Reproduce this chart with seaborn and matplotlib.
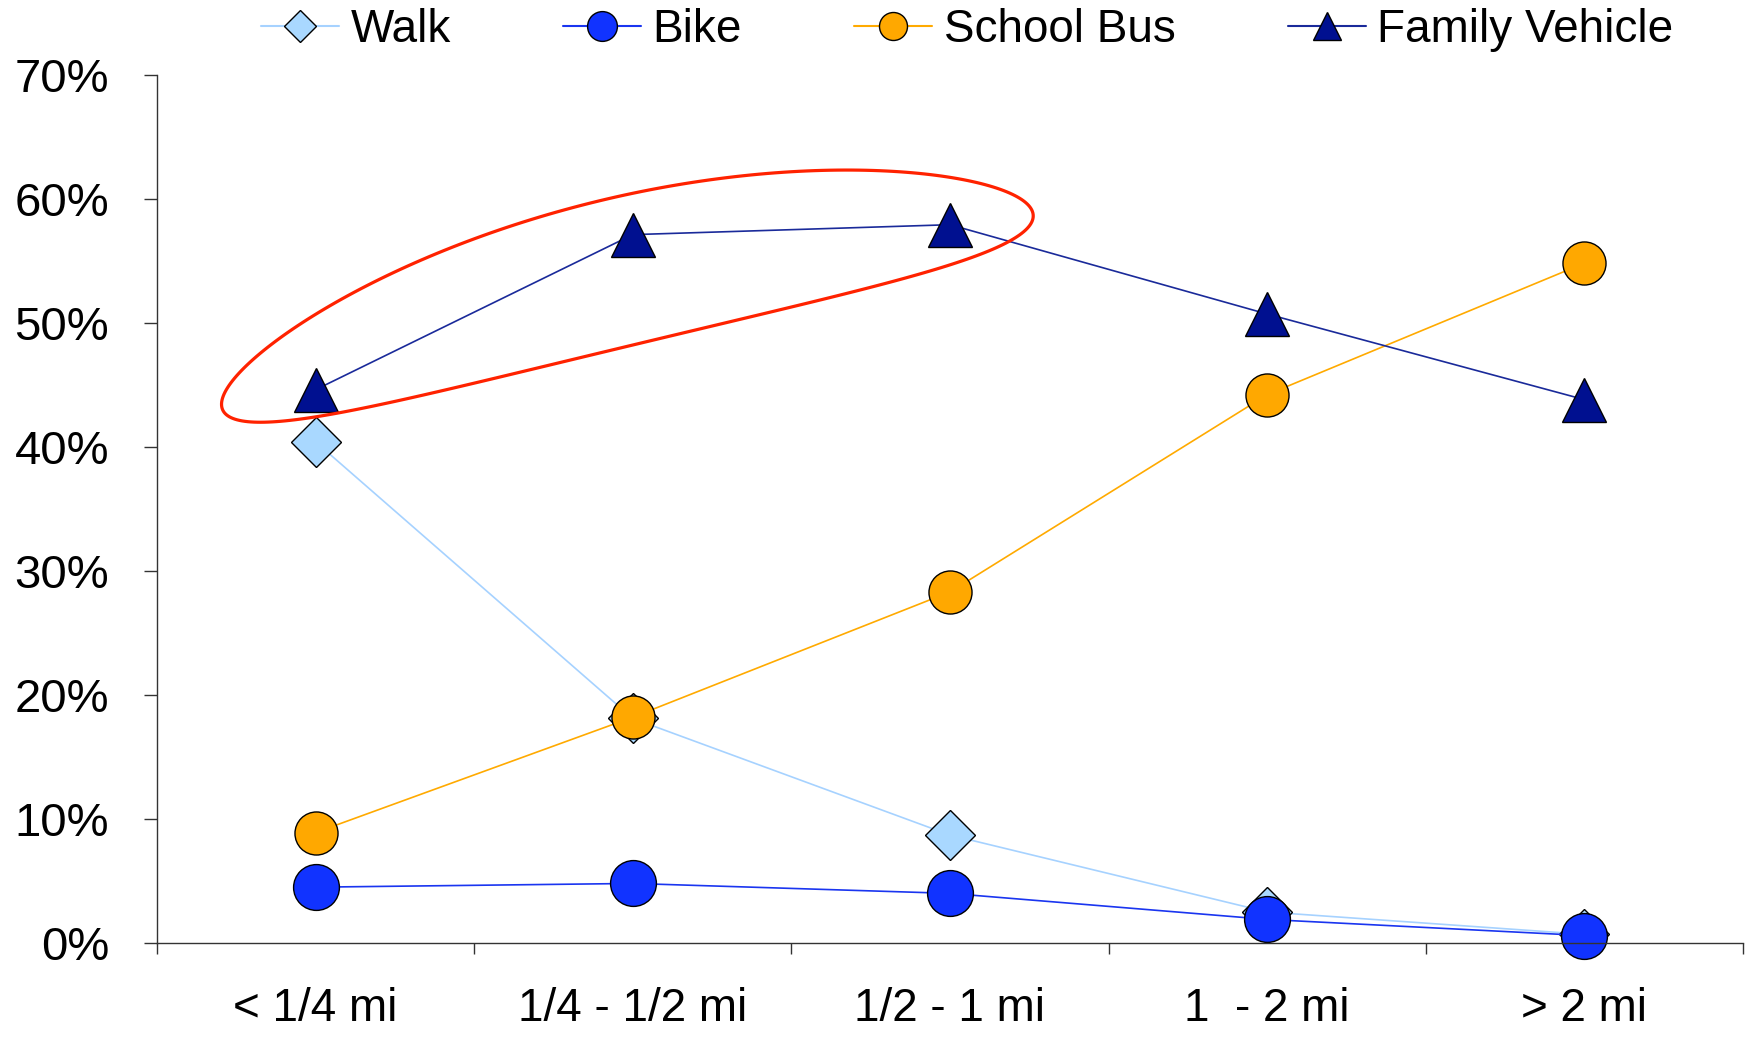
#!/usr/bin/env python

import numpy as np
import pandas as pd
import seaborn as sb
import matplotlib.pyplot as plt
from matplotlib.lines import Line2D
from matplotlib.patches import Polygon
from matplotlib.transforms import IdentityTransform
from matplotlib.ticker import FuncFormatter


distances = ["< 1/4 mi", "1/4 - 1/2 mi", "1/2 - 1 mi", "1  - 2 mi", "> 2 mi"]
walk = [40.4, 18.1, 8.7, 2.5, 0.7]
bike = [4.5, 4.8, 4.0, 1.9, 0.6]
school_bus = [8.9, 18.2, 28.3, 44.2, 54.8]
family_vehicle = [44.6, 57.1, 57.9, 50.7, 43.8]

modes = ["Walk", "Bike", "School Bus", "Family Vehicle"]
styles = {
    "Walk": dict(marker="D", ms=25, line="#a6d2ff", face="#a9d8ff"),
    "Bike": dict(marker="o", ms=33, line="#1a35f0", face="#1133ff"),
    "School Bus": dict(marker="o", ms=31, line="#ffaa00", face="#ffa800"),
    "Family Vehicle": dict(marker="^", ms=32, line="#1a2a9a", face="#001090"),
}

sb.set_style("white")
plt.rcParams["font.family"] = ["Liberation Sans", "DejaVu Sans"]
plt.rcParams["text.color"] = "black"

df = pd.DataFrame({
    "pos": np.tile(np.arange(len(distances)), len(modes)),
    "mode": np.repeat(modes, len(distances)),
    "share": walk + bike + school_bus + family_vehicle,
})


def draw_series(ax, mode):
    st = styles[mode]
    sub = df[df["mode"] == mode]
    sb.lineplot(data=sub, x="pos", y="share", ax=ax, color=st["line"], linewidth=1.2,
                marker=st["marker"], markersize=st["ms"], markerfacecolor=st["face"],
                markeredgecolor="black", markeredgewidth=1.0, clip_on=False, legend=False)


def draw_highlight(ax):
    # red loop around the first three family-vehicle points
    cx, cy = ax.transData.transform((0.983, 51.0))
    a, b, bend, ang = 417, 74, 39, np.radians(13.5)
    t = np.linspace(0, 2 * np.pi, 300)
    u = a * np.cos(t)
    v = b * np.sin(t) + bend * np.sin(t) ** 2
    xs = cx + u * np.cos(ang) - v * np.sin(ang)
    ys = cy + u * np.sin(ang) + v * np.cos(ang)
    loop = Polygon(np.column_stack([xs, ys]), closed=True, fill=False, edgecolor="#ff2200",
                   linewidth=2.3, transform=IdentityTransform(), clip_on=False, zorder=5)
    ax.add_artist(loop)


def main():
    fig = plt.figure(figsize=(17.46, 10.39), dpi=100)
    ax = fig.add_axes([0.0899, 0.0924, 0.9084, 0.8358])

    for mode in modes:
        draw_series(ax, mode)

    ax.set_xlim(-0.5, len(distances) - 0.5)
    ax.set_ylim(0, 70)
    ax.set_yticks(range(0, 71, 10))
    ax.yaxis.set_major_formatter(FuncFormatter(lambda v, _: f"{v:.0f}%"))
    ax.set_xticks(range(len(distances)))
    ax.set_xticklabels(distances)
    ax.set_xticks(np.arange(-0.5, len(distances)), minor=True)
    ax.tick_params(axis="x", which="major", bottom=True, length=0, pad=32, labelsize=33,
                   labelcolor="black")
    ax.tick_params(axis="x", which="minor", bottom=True, direction="out", length=8, width=1.0,
                   color="#333333")
    ax.tick_params(axis="y", which="major", left=True, direction="out", length=9.5, width=1.0,
                   color="#333333", pad=25, labelsize=34, labelcolor="black")
    ax.set_xlabel(None)
    ax.set_ylabel(None)
    for side in ["top", "right"]:
        ax.spines[side].set_visible(False)
    for side in ["left", "bottom"]:
        ax.spines[side].set_color("#333333")
        ax.spines[side].set_linewidth(1.0)

    draw_highlight(ax)

    handles = [
        Line2D([], [], color=styles[m]["line"], linewidth=1.5, marker=styles[m]["marker"],
               markersize=styles[m]["ms"] * 0.65, markerfacecolor=styles[m]["face"],
               markeredgecolor="black", markeredgewidth=1.0)
        for m in modes
    ]
    fig.legend(handles, modes, loc="center", bbox_to_anchor=(0.554, 0.971), ncol=4,
               frameon=False, fontsize=33, handlelength=1.7, handletextpad=0.25,
               columnspacing=2.45, borderaxespad=0, labelcolor="black")

    fig.savefig("out.png", dpi=100)


if __name__ == "__main__":
    main()
